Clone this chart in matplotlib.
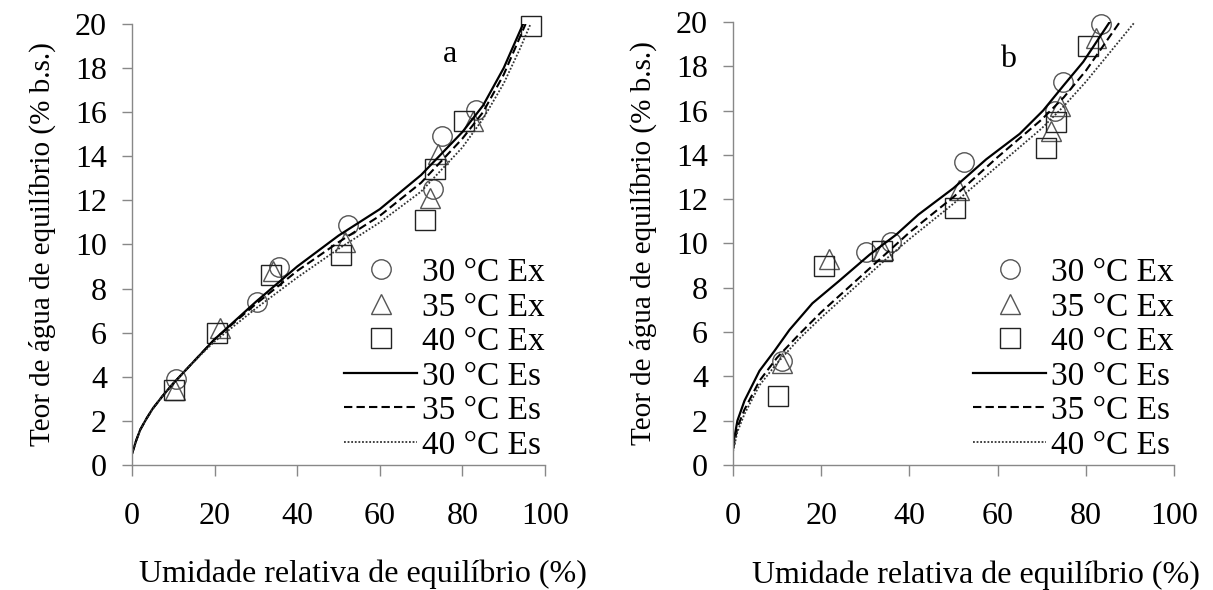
"""Isotermas de sorcao: teor de agua de equilibrio vs umidade relativa (a, b)."""

import matplotlib
matplotlib.use("Agg")
import matplotlib.pyplot as plt

plt.rcParams["font.family"] = ["Liberation Serif", "DejaVu Serif"]
plt.rcParams["font.size"] = 23

# ---- panel a: experimental points (Ex) --------------------------------
UR_A_30 = [10.6, 30.3, 35.6, 52.4, 72.9, 75.1, 83.4]
W_A_30 = [3.9, 7.4, 9.0, 10.9, 12.5, 14.9, 16.1]
UR_A_35 = [10.4, 21.3, 34.2, 51.5, 72.1, 74.1, 82.6]
W_A_35 = [3.4, 6.2, 8.8, 10.1, 12.1, 14.1, 15.6]
UR_A_40 = [10.2, 20.5, 33.6, 50.5, 71.0, 73.3, 80.4, 96.5]
W_A_40 = [3.4, 6.0, 8.6, 9.5, 11.1, 13.4, 15.6, 19.9]

# ---- panel a: estimated curves (Es) -----------------------------------
UR_A_ES_30 = [0, 1, 2, 3.5, 5, 7.5, 10, 15, 20, 30, 40, 50, 60, 70, 80, 85, 90, 94.7]
W_A_ES_30 = [0.5, 1.1, 1.6, 2.1, 2.55, 3.15, 3.7, 4.7, 5.7, 7.4, 9.0, 10.4, 11.6, 13.15, 15.1, 16.3, 18.0, 20.0]
UR_A_ES_35 = [0, 1, 2, 3.5, 5, 7.5, 10, 15, 20, 30, 40, 50, 60, 70, 80, 85, 90, 95.3]
W_A_ES_35 = [0.5, 1.1, 1.6, 2.1, 2.55, 3.15, 3.7, 4.7, 5.7, 7.3, 8.8, 10.1, 11.3, 12.8, 14.8, 16.0, 17.7, 20.0]
UR_A_ES_40 = [0, 1, 2, 3.5, 5, 7.5, 10, 15, 20, 30, 40, 50, 60, 70, 80, 85, 90, 94, 96.5]
W_A_ES_40 = [0.5, 1.1, 1.6, 2.1, 2.55, 3.15, 3.7, 4.7, 5.6, 7.1, 8.5, 9.8, 11.0, 12.4, 14.4, 15.7, 17.3, 18.9, 20.0]

# ---- panel b: experimental points (Ex) --------------------------------
UR_B_30 = [11.0, 30.2, 35.9, 52.4, 72.9, 74.8, 83.5]
W_B_30 = [4.7, 9.6, 10.05, 13.7, 16.0, 17.3, 19.9]
UR_B_35 = [11.0, 21.8, 34.0, 51.2, 72.2, 74.1, 82.4]
W_B_35 = [4.6, 9.3, 9.7, 12.4, 15.1, 16.2, 19.3]
UR_B_40 = [10.2, 20.6, 33.8, 50.4, 70.9, 73.3, 80.6]
W_B_40 = [3.1, 9.0, 9.65, 11.6, 14.3, 15.5, 18.9]

# ---- panel b: estimated curves (Es) -----------------------------------
UR_B_ES_30 = [0, 1, 2.6, 6, 9.4, 12.8, 18, 24, 31, 37, 42, 50, 57.4, 65, 70.3, 74.8, 79.4, 85.4]
W_B_ES_30 = [0.9, 2.0, 2.9, 4.25, 5.15, 6.1, 7.3, 8.3, 9.5, 10.4, 11.3, 12.5, 13.8, 14.95, 16.0, 17.1, 18.2, 20.0]
UR_B_ES_35 = [0, 1, 2.6, 6, 10, 15, 20, 25, 30, 35, 40, 50, 60, 70, 75, 80, 87.7]
W_B_ES_35 = [0.7, 1.7, 2.5, 3.8, 4.85, 5.9, 6.9, 7.8, 8.7, 9.6, 10.5, 12.1, 13.9, 15.6, 16.6, 17.8, 20.0]
UR_B_ES_40 = [0, 1, 2.6, 6, 10, 15, 20, 25, 30, 35, 40, 50, 60, 70, 75, 80, 91.1]
W_B_ES_40 = [0.6, 1.5, 2.3, 3.6, 4.6, 5.7, 6.65, 7.55, 8.45, 9.35, 10.2, 11.8, 13.5, 15.2, 16.2, 17.3, 20.0]

X_TICKS = [0, 20, 40, 60, 80, 100]
Y_TICKS = [0, 2, 4, 6, 8, 10, 12, 14, 16, 18, 20]
LABELS = ["30 °C Ex", "35 °C Ex", "40 °C Ex", "30 °C Es", "35 °C Es", "40 °C Es"]

GRAY = "#888888"


def panel(ax, ex, es, letter, letter_xy, xlabel_x):
    mk = dict(ls="none", ms=14, mfc="none", mew=1.0, clip_on=False)
    ax.plot(*ex[0], marker="o", mec="#555555", label=LABELS[0], **mk)
    ax.plot(*ex[1], marker="^", mec="#555555", label=LABELS[1], **mk)
    ax.plot(*ex[2], marker="s", mec="#222222", label=LABELS[2], **mk)
    ax.plot(*es[0], color="black", lw=1.6, ls="-", label=LABELS[3])
    ax.plot(*es[1], color="black", lw=1.5, ls=(0, (4, 2)), label=LABELS[4])
    ax.plot(*es[2], color="#333333", lw=1.3, ls=(0, (1, 1)), label=LABELS[5])

    ax.set_xlim(0, 100); ax.set_ylim(0, 20)
    ax.set_xticks(X_TICKS); ax.set_yticks(Y_TICKS)
    for s in ("top", "right"):
        ax.spines[s].set_visible(False)
    for s in ("left", "bottom"):
        ax.spines[s].set_color(GRAY)
        ax.spines[s].set_linewidth(1.0)
    ax.tick_params(axis="x", direction="out", length=8, width=1.0, color=GRAY, pad=19)
    ax.tick_params(axis="y", direction="out", length=7, width=1.0, color=GRAY, pad=11)
    ax.set_xlabel("Umidade relativa de equilíbrio (%)")
    ax.xaxis.set_label_coords(xlabel_x, -0.215)
    ax.set_ylabel("Teor de água de equilíbrio (% b.s.)", fontsize=21, labelpad=14)
    ax.text(*letter_xy, letter, ha="center", va="center")

    ax.legend(loc="lower right", bbox_to_anchor=(1.0, 0.01), frameon=False,
              fontsize=24, handlelength=2.2, handletextpad=0.15, labelspacing=0.12,
              borderpad=0, borderaxespad=0)


fig = plt.figure(figsize=(12.13, 5.9), dpi=100)
ax_a = fig.add_axes([0.1088, 0.2119, 0.3405, 0.7475])
ax_b = fig.add_axes([0.6043, 0.2119, 0.3636, 0.7508])

panel(ax_a,
      [(UR_A_30, W_A_30), (UR_A_35, W_A_35), (UR_A_40, W_A_40)],
      [(UR_A_ES_30, W_A_ES_30), (UR_A_ES_35, W_A_ES_35), (UR_A_ES_40, W_A_ES_40)],
      "a", (77, 18.6), 0.56)
panel(ax_b,
      [(UR_B_30, W_B_30), (UR_B_35, W_B_35), (UR_B_40, W_B_40)],
      [(UR_B_ES_30, W_B_ES_30), (UR_B_ES_35, W_B_ES_35), (UR_B_ES_40, W_B_ES_40)],
      "b", (62.4, 18.3), 0.55)

fig.savefig("out.png", dpi=100)
